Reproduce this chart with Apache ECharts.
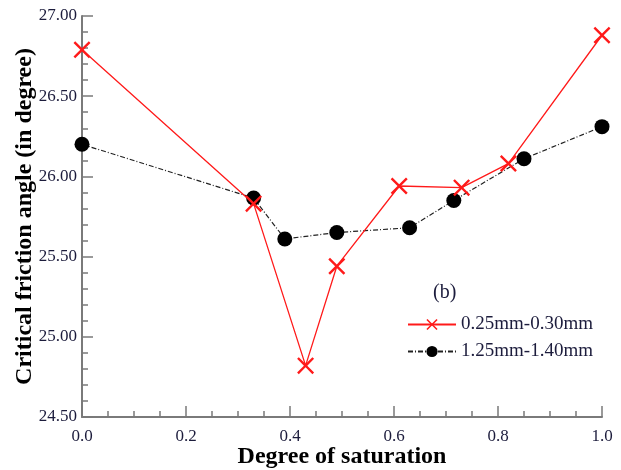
<!DOCTYPE html>
<html>
<head>
<meta charset="utf-8">
<script src="https://cdn.jsdelivr.net/npm/echarts@6/dist/echarts.min.js"></script>
<style>
  html, body { margin: 0; padding: 0; background: #fff; }
  #chart { width: 621px; height: 470px; }
</style>
</head>
<body>
<div id="chart"></div>
<script>
// data
var seriesNames = ['0.25mm-0.30mm', '1.25mm-1.40mm'];
var fineX = [0.0, 0.33, 0.43, 0.49, 0.61, 0.73, 0.82, 1.0];      // red crosses
var fineY = [26.79, 25.83, 24.82, 25.44, 25.94, 25.93, 26.08, 26.88];
var coarseX = [0.0, 0.33, 0.39, 0.49, 0.63, 0.715, 0.85, 1.0];    // black dots
var coarseY = [26.20, 25.865, 25.61, 25.65, 25.68, 25.85, 26.11, 26.31];

var serif = 'Liberation Serif';
var labelColor = '#1c1c3c';
var axisColor = '#7a7a7a';
// X shaped marker, filled polygon
var crossPath = 'path://M2,0L10,8L18,0L20,2L12,10L20,18L18,20L10,12L2,20L0,18L8,10L0,2Z';

function pairs(xs, ys) {
    var d = [];
    for (var i = 0; i < xs.length; i++) {
        d.push([xs[i], ys[i]]);
    }
    return d;
}

var myChart = echarts.init(document.getElementById('chart'));

var option = {
    animation: false,
    backgroundColor: '#fff',
    title: {
        text: '(b)',
        left: 428,
        top: 278,
        textStyle: { fontFamily: serif, fontSize: 20, fontWeight: 'normal', color: labelColor }
    },
    legend: {
        orient: 'vertical',
        left: 402,
        top: 310,
        itemWidth: 48,
        itemHeight: 14,
        itemGap: 8,
        textStyle: { fontFamily: serif, fontSize: 19, color: labelColor },
        data: seriesNames
    },
    grid: {
        left: 82,
        right: 19,
        top: 16,
        bottom: 53,
        outerBoundsMode: 'none'
    },
    xAxis: {
        type: 'value',
        min: 0,
        max: 1,
        interval: 0.2,
        name: 'Degree of saturation',
        nameLocation: 'middle',
        nameGap: 28,
        nameMoveOverlap: false,
        nameTextStyle: { fontFamily: serif, fontSize: 24, fontWeight: 'bold', color: '#000' },
        axisLine: { lineStyle: { color: axisColor, width: 2 } },
        axisTick: { inside: true, length: 11, lineStyle: { color: axisColor, width: 1.5 } },
        minorTick: { show: true, splitNumber: 4, length: 6, lineStyle: { color: axisColor, width: 1.5 } },
        splitLine: { show: false },
        axisLabel: {
            fontFamily: serif, fontSize: 17, color: labelColor, margin: 11,
            formatter: function (v) { return v.toFixed(1); }
        }
    },
    yAxis: {
        type: 'value',
        min: 24.5,
        max: 27,
        interval: 0.5,
        name: 'Critical friction angle (in degree)',
        nameLocation: 'middle',
        nameGap: 45,
        nameMoveOverlap: false,
        nameTextStyle: { fontFamily: serif, fontSize: 24, fontWeight: 'bold', color: '#000' },
        axisLine: { lineStyle: { color: axisColor, width: 2 } },
        axisTick: { inside: true, length: 11, lineStyle: { color: axisColor, width: 1.5 } },
        minorTick: { show: true, splitNumber: 5, length: 6, lineStyle: { color: axisColor, width: 1.5 } },
        splitLine: { show: false },
        axisLabel: {
            fontFamily: serif, fontSize: 17, color: labelColor, margin: 5,
            formatter: function (v) { return v.toFixed(2); }
        }
    },
    series: [
        {
            name: seriesNames[0],
            type: 'line',
            symbol: crossPath,
            symbolSize: 17,
            itemStyle: { color: '#ff1a1a' },
            lineStyle: { color: '#ff1a1a', width: 1.3 },
            data: pairs(fineX, fineY),
            z: 3
        },
        {
            name: seriesNames[1],
            type: 'line',
            symbol: 'circle',
            symbolSize: 15,
            itemStyle: { color: '#000' },
            lineStyle: { color: '#222', width: 1.2, type: [5, 2, 1, 2] },
            data: pairs(coarseX, coarseY),
            z: 2
        }
    ]
};

myChart.setOption(option);
</script>
</body>
</html>
